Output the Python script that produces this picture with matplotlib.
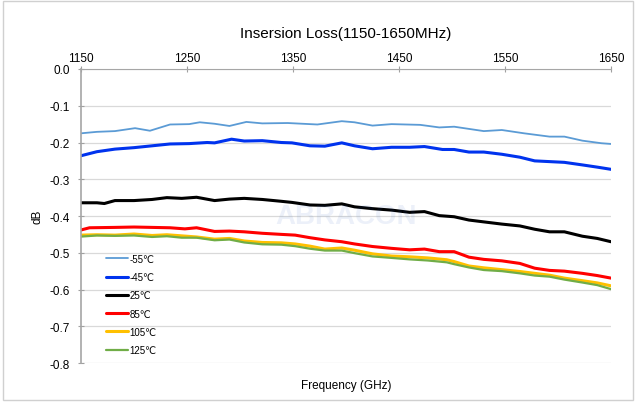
import matplotlib
matplotlib.use("Agg")
import matplotlib.pyplot as plt
from matplotlib.patches import Rectangle

plt.rcParams['font.family'] = ['Liberation Sans', 'DejaVu Sans']

labels = ["-55℃", "-45℃", "25℃", "85℃", "105℃", "125℃"]
colors = ["#5B9BD5", "#0033EE", "#000000", "#FF0000", "#FFC000", "#70AD47"]
widths = [1.3, 2.2, 2.2, 2.2, 2.2, 1.6]

f_m55 = [1150, 1165, 1182, 1201, 1215, 1234, 1252, 1262, 1276, 1290, 1306, 1321, 1345, 1373, 1396,
         1408, 1425, 1443, 1470, 1488, 1502, 1530, 1547, 1568, 1592, 1606, 1623, 1641, 1650]
v_m55 = [-0.175, -0.171, -0.169, -0.161, -0.168, -0.151, -0.150, -0.145, -0.149, -0.155, -0.144, -0.148,
         -0.147, -0.151, -0.142, -0.145, -0.154, -0.150, -0.152, -0.159, -0.157, -0.169, -0.166, -0.175,
         -0.184, -0.184, -0.195, -0.202, -0.204]

f_m45 = [1150, 1165, 1182, 1200, 1217, 1234, 1252, 1269, 1276, 1292, 1304, 1321, 1339, 1349, 1366, 1380,
         1396, 1408, 1425, 1443, 1460, 1474, 1491, 1502, 1516, 1530, 1547, 1564, 1578, 1592, 1606, 1623,
         1637, 1650]
v_m45 = [-0.236, -0.225, -0.218, -0.214, -0.209, -0.204, -0.203, -0.200, -0.201, -0.191, -0.196, -0.195,
         -0.200, -0.201, -0.209, -0.210, -0.201, -0.209, -0.217, -0.213, -0.213, -0.211, -0.219, -0.219,
         -0.226, -0.226, -0.232, -0.240, -0.250, -0.252, -0.254, -0.261, -0.267, -0.273]

f_25 = [1150, 1165, 1172, 1182, 1200, 1217, 1231, 1245, 1259, 1276, 1290, 1304, 1321, 1339, 1349, 1366,
        1380, 1396, 1408, 1425, 1443, 1460, 1474, 1488, 1502, 1516, 1530, 1547, 1564, 1578, 1592, 1606,
        1623, 1637, 1650]
v_25 = [-0.364, -0.364, -0.366, -0.358, -0.358, -0.355, -0.350, -0.352, -0.349, -0.358, -0.354, -0.352,
        -0.355, -0.360, -0.363, -0.370, -0.371, -0.367, -0.375, -0.380, -0.384, -0.390, -0.388, -0.399,
        -0.402, -0.411, -0.416, -0.422, -0.427, -0.436, -0.443, -0.443, -0.455, -0.461, -0.470]

f_85 = [1150, 1158, 1182, 1200, 1217, 1234, 1248, 1259, 1276, 1290, 1304, 1321, 1339, 1352, 1366, 1380,
        1396, 1408, 1425, 1443, 1460, 1474, 1488, 1502, 1516, 1530, 1547, 1564, 1578, 1592, 1606, 1623,
        1637, 1650]
v_85 = [-0.438, -0.432, -0.431, -0.430, -0.431, -0.432, -0.435, -0.432, -0.442, -0.441, -0.443, -0.447,
        -0.450, -0.452, -0.459, -0.465, -0.470, -0.476, -0.483, -0.488, -0.492, -0.490, -0.497, -0.497,
        -0.512, -0.518, -0.522, -0.529, -0.542, -0.548, -0.550, -0.556, -0.562, -0.569]

f_105 = [1150, 1165, 1182, 1200, 1217, 1231, 1245, 1259, 1276, 1290, 1304, 1321, 1339, 1352, 1366, 1380,
         1396, 1408, 1425, 1443, 1460, 1477, 1495, 1502, 1516, 1530, 1547, 1564, 1578, 1592, 1606, 1623,
         1637, 1650]
v_105 = [-0.452, -0.451, -0.452, -0.449, -0.453, -0.451, -0.454, -0.457, -0.463, -0.461, -0.468, -0.472,
         -0.473, -0.476, -0.482, -0.490, -0.487, -0.493, -0.503, -0.509, -0.511, -0.514, -0.519, -0.524,
         -0.536, -0.541, -0.546, -0.551, -0.556, -0.561, -0.569, -0.576, -0.582, -0.590]

f_125 = f_105
v_125 = [-0.456, -0.453, -0.454, -0.453, -0.457, -0.455, -0.459, -0.459, -0.466, -0.464, -0.472, -0.477,
         -0.478, -0.482, -0.489, -0.494, -0.494, -0.501, -0.510, -0.514, -0.518, -0.521, -0.526, -0.531,
         -0.540, -0.547, -0.550, -0.556, -0.562, -0.565, -0.573, -0.581, -0.588, -0.599]

xticks = [1150, 1250, 1350, 1450, 1550, 1650]
yticks = [0.0, -0.1, -0.2, -0.3, -0.4, -0.5, -0.6, -0.7, -0.8]

fig = plt.figure(figsize=(6.37, 4.06), dpi=100)
fig.patches.append(Rectangle((0.004, 0.012), 0.99, 0.982, transform=fig.transFigure,
                             fill=False, edgecolor="#D0D0D0", linewidth=1.0))
ax = fig.add_axes([0.1272, 0.1034, 0.8320, 0.7242])

series = [(f_m55, v_m55), (f_m45, v_m45), (f_25, v_25), (f_85, v_85), (f_105, v_105), (f_125, v_125)]
for (f, v), lab, c, w in zip(series, labels, colors, widths):
    ax.plot(f, v, color=c, lw=w, label=lab, solid_capstyle='round', solid_joinstyle='round')

ax.set_xlim(1150, 1650)
ax.set_ylim(-0.8, 0.0)
ax.set_xticks(xticks)
ax.set_yticks(yticks)
ax.set_yticklabels([f"{t:.1f}" for t in yticks])
ax.xaxis.tick_top()
ax.tick_params(axis='x', labelsize=8.5, direction='inout', length=4, color="#A0A0A0", pad=1.5)
ax.tick_params(axis='y', labelsize=8.5, direction='inout', length=4, color="#A0A0A0", pad=6)
ax.grid(axis='y', color="#D9D9D9", lw=0.9)
ax.set_axisbelow(True)
for s in ['right', 'bottom']:
    ax.spines[s].set_visible(False)
ax.spines['top'].set_color("#A6A6A6")
ax.spines['left'].set_color("#A6A6A6")
ax.spines['left'].set_linewidth(1.2)

ax.set_title("Insersion Loss(1150-1650MHz)", fontsize=11, pad=23)
ax.set_xlabel("Frequency (GHz)", fontsize=8.5, labelpad=0)
ax.xaxis.set_label_coords(0.5, -0.055)
ax.set_ylabel("dB", fontsize=8.5, labelpad=4)

ax.text(0.5, 0.5, "ABRACON", transform=ax.transAxes, fontsize=20, fontweight='bold',
        color="#3060C0", alpha=0.09, ha='center', va='center')

leg = ax.legend(loc='upper left', bbox_to_anchor=(0.04, 0.385), frameon=False, fontsize=7,
                handlelength=2.3, handletextpad=0.1, labelspacing=0.85, borderaxespad=0)

fig.savefig("out.png", dpi=100)
